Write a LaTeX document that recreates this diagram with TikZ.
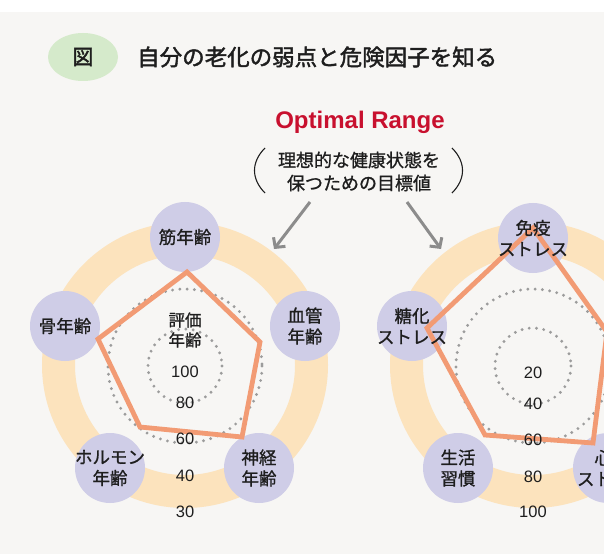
\documentclass[tikz,border=0pt]{standalone}
\usepackage{fontspec}
\setmainfont{Liberation Sans}
\newfontfamily\cjk{Noto Sans CJK JP}[FakeBold=1]
\newfontfamily\cjkt{Noto Sans CJK JP}[FakeBold=1.8]
\usetikzlibrary{arrows.meta,shapes.geometric}
\definecolor{bgc}{HTML}{F7F6F4}
\definecolor{ringc}{HTML}{FCE3BD}
\definecolor{nodec}{HTML}{CFCDE7}
\definecolor{penc}{HTML}{F29B74}
\definecolor{greenc}{HTML}{D5EACB}
\definecolor{redc}{HTML}{C8102E}
\definecolor{txt}{HTML}{1E1E1E}
\definecolor{arrowc}{HTML}{8C8C8C}
\definecolor{dotc}{HTML}{9C9C9C}
\begin{document}
\begin{tikzpicture}[x=1bp,y=-1bp,
  catnode/.style={circle, fill=nodec, minimum size=70bp, inner sep=0pt},
  cattext/.style={align=center, inner sep=0pt, text=txt, font=\cjk\fontsize{17.5bp}{21bp}\selectfont},
  num/.style={inner sep=0pt, text=txt, font=\fontsize{16.5bp}{16.5bp}\selectfont},
  ringline/.style={draw=ringc, line width=33bp},
  dotcircle/.style={draw=dotc, line width=3.2bp, dash pattern=on 0bp off 7.3bp, line cap=round},
  penline/.style={draw=penc, line width=4.8bp, line join=miter},
  arr/.style={draw=arrowc, line width=3bp, -{Straight Barb[length=7bp,width=15bp,line width=3bp]}},
  paren/.style={draw=txt, line width=1.1bp}
]
\useasboundingbox (0,0) rectangle (604,554);
\clip (0,0) rectangle (604,554);
\fill[white] (0,0) rectangle (604,12);
\fill[bgc] (0,12) rectangle (604,554);

% title
\node[ellipse, fill=greenc, minimum width=70bp, minimum height=48bp, inner sep=0pt] (tag) at (83,57) {};
\node[inner sep=0pt, text=txt, font=\cjkt\fontsize{21bp}{21bp}\selectfont] (tagtext) at (tag.center) {図};
\node[anchor=west, inner sep=0pt, text=txt, font=\cjkt\fontsize{22.5bp}{22.5bp}\selectfont] (title) at (137,57) {自分の老化の弱点と危険因子を知る};

% optimal range
\node[inner sep=0pt, text=redc, font=\bfseries\fontsize{24bp}{24bp}\selectfont] (opt) at (360,122) {Optimal Range};
\node[inner sep=0pt, text=txt, font=\cjk\fontsize{18bp}{18bp}\selectfont] (exp1) at (359,160) {理想的な健康状態を};
\node[inner sep=0pt, text=txt, font=\cjk\fontsize{18bp}{18bp}\selectfont] (exp2) at (359,183) {保つための目標値};
\coordinate (lpt) at (265,148); \coordinate (lpb) at (265,193);
\coordinate (rpt) at (452,148); \coordinate (rpb) at (452,193);
\draw[paren] (lpt) .. controls (251,162) and (251,179) .. (lpb);
\draw[paren] (rpt) .. controls (466,162) and (466,179) .. (rpb);

% arrows
\coordinate (a1s) at (310,202); \coordinate (a1e) at (274,249);
\coordinate (a2s) at (407,202); \coordinate (a2e) at (441,249);
\draw[arr] (a1s) -- (a1e);
\draw[arr] (a2s) -- (a2e);

% ===== left radar =====
\coordinate (LC) at (185,365);
\draw[ringline] (LC) circle[radius=126.5];
\draw[dotcircle] (185,366) circle[radius=37];
\draw[dotcircle] (185,366) circle[radius=77];
\node[catnode] (L1) at (185,237) {};
\node[catnode] (L2) at (305,326) {};
\node[catnode] (L3) at (259,468) {};
\node[catnode] (L4) at (110,468) {};
\node[catnode] (L5) at (65,326) {};
\coordinate (LP1) at (187,272);
\coordinate (LP2) at (260,342);
\coordinate (LP3) at (242,437);
\coordinate (LP4) at (140,427);
\coordinate (LP5) at (98,339);
\draw[penline] (LP1) -- (LP2) -- (LP3) -- (LP4) -- (LP5) -- cycle;
\node[cattext] at (L1) {筋年齢};
\node[cattext] at (L2) {血管\\年齢};
\node[cattext] at (L3) {神経\\年齢};
\node[cattext] at (L4) {ホルモン\\年齢};
\node[cattext] at (L5) {骨年齢};
\node[cattext, font=\cjk\fontsize{16.5bp}{20bp}\selectfont] (Llab) at (185,330) {評価\\年齢};
\node[num] (Ln1) at (185,372) {100};
\node[num] (Ln2) at (185,403) {80};
\node[num] (Ln3) at (185,439) {60};
\node[num] (Ln4) at (185,476) {40};
\node[num] (Ln5) at (185,512) {30};

% ===== right radar =====
\coordinate (RC) at (533,365);
\draw[ringline] (RC) circle[radius=126.5];
\draw[dotcircle] (533,366) circle[radius=38];
\draw[dotcircle] (533,366) circle[radius=77];
\node[catnode] (R1) at (533,238) {};
\node[catnode] (R3) at (608,468) {};
\node[catnode] (R4) at (458,468) {};
\node[catnode] (R5) at (412,326) {};
\coordinate (RP1) at (533,228);
\coordinate (RP2) at (607,332);
\coordinate (RP3) at (593,443);
\coordinate (RP4) at (485,435);
\coordinate (RP5) at (427,328);
\draw[penline] (RP1) -- (RP2) -- (RP3) -- (RP4) -- (RP5) -- cycle;
\node[cattext] at (R1) {免疫\\ストレス};
\node[cattext] at (612,468) {心理\\ストレス};
\node[cattext] at (R4) {生活\\習慣};
\node[cattext] at (R5) {糖化\\ストレス};
\node[num] (Rn1) at (533,373) {20};
\node[num] (Rn2) at (533,404) {40};
\node[num] (Rn3) at (533,440) {60};
\node[num] (Rn4) at (533,477) {80};
\node[num] (Rn5) at (533,512) {100};
\end{tikzpicture}
\end{document}
